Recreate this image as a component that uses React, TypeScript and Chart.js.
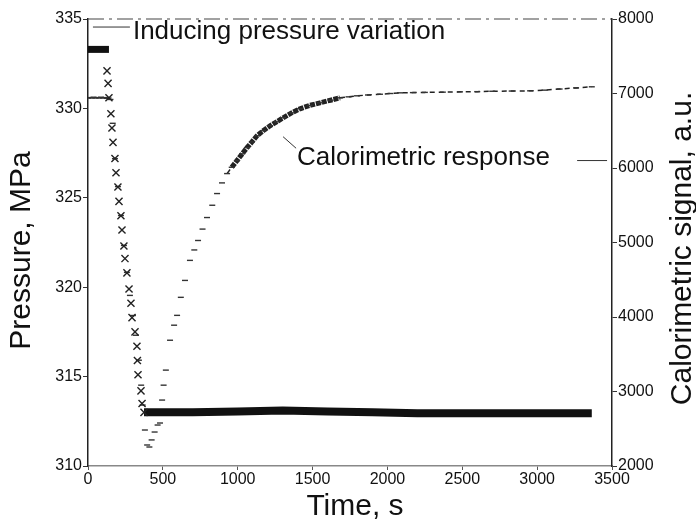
import React, { useEffect, useRef } from 'react';
import { Chart, registerables } from 'chart.js';

Chart.register(...registerables);

// ---- data ----
const timeTicks = [0, 500, 1000, 1500, 2000, 2500, 3000, 3500];
const pressureTicks = [310, 315, 320, 325, 330, 335];
const signalTicks = [2000, 3000, 4000, 5000, 6000, 7000, 8000];

// initial pressure plateau (dense markers -> band)
const pressStartTime = [0, 40, 80, 120, 140];
const pressStartValue = [333.3, 333.3, 333.3, 333.3, 333.3];

// pressure drop (individual x markers)
const pressDropTime = [127, 134, 140, 153, 160, 167, 180, 187, 200, 207, 220, 227, 240, 247, 260, 274, 287, 294, 314, 327, 330, 334, 354, 361, 374];
const pressDropValue = [332.1, 331.4, 330.6, 329.7, 328.9, 328.1, 327.2, 326.4, 325.6, 324.8, 324.0, 323.2, 322.3, 321.6, 320.8, 319.9, 319.1, 318.3, 317.5, 316.7, 315.9, 315.1, 314.2, 313.5, 313.0];

// final pressure plateau (dense markers -> band)
const pressEndTime = [374, 700, 1000, 1300, 1600, 1900, 2200, 2600, 3000, 3365];
const pressEndValue = [313.0, 313.0, 313.05, 313.1, 313.05, 313.0, 312.95, 312.95, 312.95, 312.95];

// calorimetric signal
const calTime = [0, 12, 25, 37, 50, 62, 75, 87, 100, 112, 125, 137, 150, 165, 180, 200, 220, 240, 260, 280, 300, 320, 340, 355, 365, 380, 395, 410, 425, 445, 465, 481, 495, 505, 520, 548, 575, 595, 620, 648, 681, 710, 735, 765, 795, 830, 862, 895, 929, 960, 995, 1030, 1062, 1095, 1129, 1170, 1216, 1260, 1303, 1360, 1416, 1480, 1550, 1620, 1683, 1740, 1797, 1870, 1950, 2020, 2084, 2170, 2250, 2370, 2485, 2600, 2700, 2830, 2953, 3050, 3150, 3260, 3365];
const calSignal = [6940, 6945, 6940, 6950, 6940, 6945, 6940, 6950, 6940, 6945, 6935, 6940, 6920, 6600, 6125, 5750, 5362, 4960, 4599, 4290, 4020, 3755, 3420, 3085, 2818, 2483, 2282, 2255, 2350, 2456, 2550, 2577, 2885, 3085, 3287, 3688, 3890, 4022, 4264, 4491, 4760, 4900, 5027, 5180, 5335, 5500, 5657, 5800, 5925, 6010, 6099, 6190, 6273, 6350, 6433, 6500, 6567, 6620, 6674, 6740, 6795, 6840, 6875, 6910, 6942, 6955, 6969, 6980, 6990, 7000, 7009, 7012, 7015, 7018, 7022, 7025, 7030, 7033, 7036, 7045, 7060, 7075, 7090];

// annotations
const pressureNote = { text: 'Inducing pressure variation', t: 300, p: 334.27, lineFrom: 33, lineTo: 280, lineP: 334.55 };
const calorNote = { text: 'Calorimetric response', t: 1396, v: 6139, l1: [1303, 6420, 1390, 6265], l2: [3267, 6100, 3467, 6100] };
const titles = { x: 'Time, s', left: 'Pressure, MPa', right: 'Calorimetric signal, a.u.' };

const FONT = '"Liberation Sans", Arial, Helvetica, sans-serif';

const pts = (xs: number[], ys: number[]) => xs.map((x, i) => ({ x, y: ys[i] }));

const decorPlugin = {
  id: 'decor',
  afterDatasetsDraw(chart: any) {
    const { ctx, chartArea, scales } = chart;
    const x = scales.x, yP = scales.yP, yC = scales.yC;
    ctx.save();
    // dash-dot top frame
    ctx.strokeStyle = '#444';
    ctx.lineWidth = 1.2;
    ctx.setLineDash([16, 5, 3, 5]);
    ctx.beginPath();
    ctx.moveTo(chartArea.left, chartArea.top);
    ctx.lineTo(chartArea.right, chartArea.top);
    ctx.stroke();
    ctx.setLineDash([]);

    // leader lines
    ctx.strokeStyle = '#333';
    ctx.lineWidth = 1;
    ctx.beginPath();
    ctx.moveTo(x.getPixelForValue(pressureNote.lineFrom), yP.getPixelForValue(pressureNote.lineP));
    ctx.lineTo(x.getPixelForValue(pressureNote.lineTo), yP.getPixelForValue(pressureNote.lineP));
    ctx.moveTo(x.getPixelForValue(calorNote.l1[0]), yC.getPixelForValue(calorNote.l1[1]));
    ctx.lineTo(x.getPixelForValue(calorNote.l1[2]), yC.getPixelForValue(calorNote.l1[3]));
    ctx.moveTo(x.getPixelForValue(calorNote.l2[0]), yC.getPixelForValue(calorNote.l2[1]));
    ctx.lineTo(x.getPixelForValue(calorNote.l2[2]), yC.getPixelForValue(calorNote.l2[3]));
    ctx.stroke();

    // annotation texts
    ctx.fillStyle = '#111';
    ctx.font = `26px ${FONT}`;
    ctx.textAlign = 'left';
    ctx.textBaseline = 'middle';
    ctx.fillText(pressureNote.text, x.getPixelForValue(pressureNote.t), yP.getPixelForValue(pressureNote.p));
    ctx.fillText(calorNote.text, x.getPixelForValue(calorNote.t), yC.getPixelForValue(calorNote.v));

    // axis titles
    ctx.font = `30px ${FONT}`;
    ctx.textAlign = 'center';
    const midY = (chartArea.top + chartArea.bottom) / 2;
    ctx.fillText(titles.x, (chartArea.left + chartArea.right) / 2 + 5, chartArea.bottom + 41);
    ctx.save();
    ctx.translate(chartArea.left - 66, midY + 8);
    ctx.rotate(-Math.PI / 2);
    ctx.fillText(titles.left, 0, 0);
    ctx.restore();
    ctx.save();
    ctx.translate(chartArea.right + 71, midY + 6);
    ctx.rotate(-Math.PI / 2);
    ctx.fillText(titles.right, 0, 0);
    ctx.restore();
    ctx.restore();
  },
};

export default function App() {
  const ref = useRef<HTMLCanvasElement | null>(null);
  useEffect(() => {
    if (!ref.current) return;
    const tickFont = { family: FONT, size: 16 };
    const plain = (v: any) => String(v);
    const chart = new Chart(ref.current, {
      type: 'scatter',
      data: {
        datasets: [
          {
            label: 'p start',
            data: pts(pressStartTime, pressStartValue),
            yAxisID: 'yP',
            showLine: true,
            borderColor: '#111',
            borderWidth: 7,
            pointRadius: 0,
          },
          {
            label: 'p drop',
            data: pts(pressDropTime, pressDropValue),
            yAxisID: 'yP',
            showLine: false,
            pointStyle: 'crossRot',
            pointRadius: 5,
            borderColor: '#222',
            borderWidth: 1.4,
          },
          {
            label: 'p end',
            data: pts(pressEndTime, pressEndValue),
            yAxisID: 'yP',
            showLine: true,
            borderColor: '#111',
            borderWidth: 8,
            pointRadius: 0,
          },
          {
            label: 'calorimetric',
            data: pts(calTime, calSignal),
            yAxisID: 'yC',
            showLine: true,
            borderColor: '#333',
            borderWidth: 1.5,
            pointStyle: 'line',
            pointRadius: 3,
            pointBorderWidth: 1.4,
            pointBorderColor: '#333',
            segment: {
              borderColor: (c: any) => (c.p0.parsed.x < 900 ? 'rgba(0,0,0,0)' : '#222'),
              borderWidth: (c: any) => (c.p0.parsed.x >= 950 && c.p0.parsed.x < 1650 ? 5 : 1.5),
              borderDash: (c: any) => (c.p0.parsed.x >= 950 && c.p0.parsed.x < 1650 ? [5, 1] : [5, 4]),
            },
          },
        ],
      },
      options: {
        responsive: false,
        animation: false,
        layout: { padding: { top: 19, left: 0, right: 0, bottom: 0 } },
        plugins: { legend: { display: false }, tooltip: { enabled: false } },
        scales: {
          x: {
            type: 'linear',
            min: 0,
            max: 3500,
            afterBuildTicks: (s: any) => { s.ticks = timeTicks.map((v) => ({ value: v })); },
            afterFit: (s: any) => { s.height = 56; },
            ticks: { font: tickFont, color: '#111', padding: 0, maxRotation: 0, callback: plain },
            grid: { drawOnChartArea: false, drawTicks: true, tickLength: 4, color: '#555' },
            border: { display: true, color: '#888', width: 1.5 },
          },
          yP: {
            type: 'linear',
            position: 'left',
            min: 310,
            max: 335,
            afterBuildTicks: (s: any) => { s.ticks = pressureTicks.map((v) => ({ value: v })); },
            afterFit: (s: any) => { s.width = 88; },
            ticks: { font: tickFont, color: '#111', padding: 1, callback: plain },
            grid: { drawOnChartArea: false, drawTicks: true, tickLength: 5, color: '#333' },
            border: { display: true, color: '#222', width: 1.5 },
          },
          yC: {
            type: 'linear',
            position: 'right',
            min: 2000,
            max: 8000,
            afterBuildTicks: (s: any) => { s.ticks = signalTicks.map((v) => ({ value: v })); },
            afterFit: (s: any) => { s.width = 84; },
            ticks: { font: tickFont, color: '#111', padding: 1, callback: plain },
            grid: { drawOnChartArea: false, drawTicks: true, tickLength: 5, color: '#333' },
            border: { display: true, color: '#222', width: 1.5 },
          },
        },
      },
      plugins: [decorPlugin],
    } as any);
    return () => chart.destroy();
  }, []);
  return (
    <div style={{ position: 'fixed', left: 0, top: 0, width: 696, height: 522, background: '#fff' }}>
      <canvas ref={ref} width={696} height={522} style={{ display: 'block' }} />
    </div>
  );
}
